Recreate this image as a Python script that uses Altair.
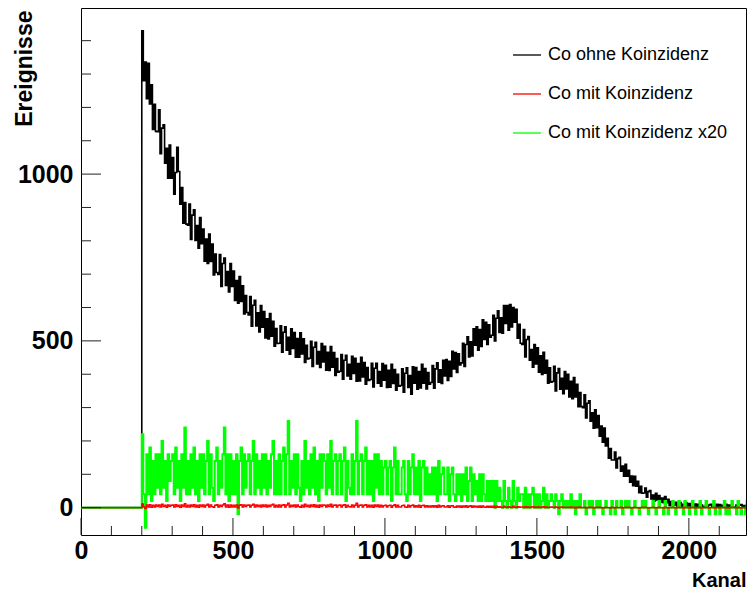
import altair as alt
import pandas as pd

# ---------------- data ----------------
START = 200      # first filled channel
BIN = 5          # channels per plotted bin
X_END = 2200

# "Co ohne Koinzidenz" counts, bins of 5 channels from 200 to 2195
ohne = [
    1430, 1280, 1336, 1226, 1332, 1210, 1268, 1134, 1209, 1128,
    1127, 1193, 1061, 1138, 1148, 1033, 1077, 988, 1087, 988,
    1050, 940, 1005, 1080, 1008, 910, 960, 853, 915, 850,
    847, 910, 804, 877, 893, 801, 846, 778, 870, 791,
    835, 739, 805, 732, 820, 738, 790, 698, 760, 705,
    699, 759, 663, 732, 748, 666, 708, 647, 732, 663,
    709, 621, 681, 613, 693, 618, 665, 581, 636, 585,
    578, 633, 544, 607, 622, 545, 584, 527, 606, 541,
    588, 509, 566, 506, 582, 514, 559, 484, 537, 492,
    493, 545, 466, 526, 542, 472, 511, 460, 536, 477,
    525, 451, 507, 451, 524, 461, 506, 435, 487, 446,
    448, 499, 423, 481, 496, 431, 468, 420, 492, 437,
    484, 412, 466, 411, 483, 421, 465, 396, 447, 406,
    409, 459, 385, 442, 457, 395, 430, 385, 454, 402,
    448, 379, 432, 380, 451, 392, 435, 370, 420, 381,
    384, 433, 362, 418, 433, 373, 408, 364, 432, 382,
    427, 360, 412, 361, 430, 372, 414, 352, 400, 364,
    366, 416, 346, 403, 419, 360, 396, 340, 422, 373,
    420, 355, 408, 359, 430, 373, 417, 356, 405, 370,
    375, 426, 358, 416, 434, 376, 413, 372, 442, 395,
    444, 381, 439, 393, 469, 416, 465, 405, 461, 428,
    434, 493, 423, 489, 512, 452, 497, 455, 536, 487,
    542, 472, 534, 483, 563, 504, 556, 489, 548, 511,
    517, 577, 500, 568, 590, 525, 569, 523, 606, 552,
    606, 532, 609, 542, 600, 556, 595, 508, 550, 493,
    489, 534, 452, 504, 513, 442, 474, 421, 489, 431,
    479, 406, 455, 399, 466, 403, 442, 373, 419, 376,
    378, 424, 350, 404, 417, 355, 388, 342, 408, 356,
    400, 332, 379, 327, 390, 332, 370, 303, 345, 303,
    300, 338, 269, 313, 320, 259, 284, 238, 293, 240,
    276, 214, 245, 196, 239, 185, 208, 148, 177, 143,
    143, 167, 119, 147, 151, 109, 125, 94, 130, 94,
    112, 76, 95, 66, 94, 64, 79, 45, 64, 43,
    44, 59, 31, 48, 51, 26, 38, 20, 43, 23,
    36, 16, 29, 15, 33, 15, 25, 6, 18, 7,
    8, 16, 3, 12, 15, 3, 10, 1, 14, 5,
    12, 3, 9, 2, 11, 4, 10, 1, 8, 3,
    3, 9, 1, 8, 10, 2, 7, 2, 10, 4,
    9, 1, 7, 2, 10, 3, 8, 1, 6, 2,
    2, 8, 0, 7, 9, 1, 6, 1, 9, 3,
]

# "Co mit Koinzidenz x20" values (coincidence counts times 20), same bins
mit_x20 = [
    220, 40, -60, 160, 40, 180, 20, 140, 40, 160,
    60, 160, 40, 200, 60, 140, 20, 160, 80, 140,
    160, 40, 180, 60, 140, 20, 160, 60, 240, 40,
    140, 40, 160, 60, 180, 40, 140, 20, 160, 60,
    160, 40, 140, 200, 40, 160, 60, 20, 140, 180,
    40, 140, 60, 160, 240, 40, 160, 20, 160, 40,
    140, 40, 160, -20, 140, 180, 40, 160, 60, 140,
    160, 40, 140, 200, 40, 160, 60, 140, 40, 160,
    60, 160, 40, 140, 60, 160, 200, 40, 140, 40,
    160, 40, 140, 180, 40, 160, 260, 40, 140, 60,
    160, 40, 160, 60, 20, 140, 40, 200, 60, 140,
    40, 160, 60, 180, 40, 140, 20, 160, 60, 160,
    140, 40, 160, 60, 200, 40, 140, 160, 40, 140,
    160, 40, 140, 180, 20, 140, 60, 40, 160, 40,
    140, 260, 40, 140, 160, 40, 140, 180, 40, 140,
    40, 140, 20, 160, 60, 160, 40, 140, 40, 120,
    140, 40, 120, 140, 20, 120, 180, 40, 140, 40,
    40, 120, 140, 40, 20, 140, 40, 120, 160, 40,
    120, 40, 140, 20, 120, 140, 40, 120, 40, 100,
    40, 120, 40, 120, 20, 140, 40, 100, 120, 40,
    40, 120, 20, 100, 120, 40, 20, 100, 40, 100,
    20, 100, 40, 120, 20, 80, 120, 20, 100, 40,
    80, 20, 100, 20, 100, 40, 20, 80, 20, 80,
    20, 80, 0, 80, 20, 60, 20, 0, 80, 20,
    0, 60, 20, 0, 80, 20, 0, 60, 20, 40,
    40, 0, 60, 0, 40, 0, 40, 60, 0, 40,
    0, 40, 0, 20, 60, 0, 40, 0, 20, 40,
    20, 0, 40, 20, -20, 20, 40, 0, 20, 0,
    20, 0, 40, 0, 20, -20, 20, 0, 40, 0,
    0, 20, -20, 0, 20, 0, 20, -20, 0, 20,
    0, 20, 0, -20, 0, 20, 0, 0, -20, 20,
    0, -20, 20, 0, 0, 20, -20, 0, 20, 0,
    20, 0, -20, 0, 20, 0, 0, -20, 0, 20,
    0, 20, 0, -20, 0, 0, 20, 0, -20, 0,
    20, 0, 0, -20, 20, 0, -20, 0, 0, 20,
    0, -20, 0, 20, 0, 0, -20, 20, 0, 0,
    -20, 0, 20, 0, -20, 0, 0, 20, -20, 0,
    0, 20, 0, -20, 0, 0, 20, -20, 0, 0,
    -20, 0, 0, 20, -20, 0, -20, 0, 20, 0,
    0, -20, 20, 0, -20, 0, 0, -20, 20, 0,
]
SCALE_FACTOR = 20   # legend: "x20"
mit = [v / SCALE_FACTOR for v in mit_x20]

series_names = ["Co ohne Koinzidenz", "Co mit Koinzidenz", "Co mit Koinzidenz x20"]
series_colors = ["#000000", "#ff0000", "#00ff00"]

x_domain = [0, 2188]
y_domain = [-82, 1498]
x_labels = [0, 500, 1000, 1500, 2000]
x_minor = [100, 200, 300, 400, 600, 700, 800, 900, 1100, 1200, 1300, 1400,
           1600, 1700, 1800, 1900, 2100]
y_labels = [0, 500, 1000]
y_minor = [100, 200, 300, 400, 600, 700, 800, 900, 1100, 1200, 1300, 1400]

# ---------------- layout ----------------
W, H = 665, 527
BOLD_FONT = "Liberation Sans"


def hist_df(name, counts):
    ch = [0] + [START + i * BIN for i in range(len(counts))] + [X_END]
    vals = [0] + list(counts) + [counts[-1]]
    return pd.DataFrame({"ch": ch, "v": vals, "series": name})


x_axis = alt.Axis(values=x_labels, format="d", title="Kanal", grid=False, ticks=False,
                  tickSize=0, domain=False, labelFlush=False, labelOverlap=False,
                  labelBaseline="alphabetic", labelPadding=23,
                  titleX=W, titleY=51, titleAlign="right", titleAnchor="end",
                  titleBaseline="alphabetic", titleFontSize=20)
y_axis = alt.Axis(values=y_labels, format="d", title="Ereignisse", grid=False, ticks=False,
                  tickSize=0, domain=False, labelFlush=False, labelOverlap=False,
                  labelPadding=8,
                  titleAngle=270, titleX=-50, titleY=2, titleAlign="right",
                  titleAnchor="end", titleBaseline="alphabetic", titleFontSize=23)

xs = alt.Scale(domain=x_domain, nice=False, zero=False)
ys = alt.Scale(domain=y_domain, nice=False, zero=False)


def X():
    return alt.X("ch:Q", scale=xs, axis=x_axis)


def Y():
    return alt.Y("v:Q", scale=ys, axis=y_axis)


color = alt.Color(
    "series:N",
    scale=alt.Scale(domain=series_names, range=series_colors),
    legend=alt.Legend(title=None, orient="none", legendX=431, legendY=32,
                      symbolType="stroke", symbolSize=784, symbolStrokeWidth=1.3,
                      labelFont="Liberation Sans", labelFontSize=18, labelColor="black",
                      labelLimit=400, labelOffset=6, rowPadding=15, padding=0),
)


def hist_layer(df, width):
    return alt.Chart(df).mark_line(interpolate="step-after", strokeWidth=width,
                                   clip=True).encode(x=X(), y=Y(), color=color)


layers = [
    hist_layer(hist_df(series_names[0], ohne), 1.6),
    hist_layer(hist_df(series_names[2], mit_x20), 2.0),
    hist_layer(hist_df(series_names[1], mit), 1.4),
]

tick_color = "#222222"
ymaj = alt.Chart(pd.DataFrame({"v": y_labels})).mark_rule(color=tick_color, strokeWidth=1).encode(
    y=Y(), x=alt.value(0), x2=alt.value(20))
ymin = alt.Chart(pd.DataFrame({"v": y_minor})).mark_rule(color=tick_color, strokeWidth=1).encode(
    y=Y(), x=alt.value(0), x2=alt.value(10))
xmaj = alt.Chart(pd.DataFrame({"ch": x_labels})).mark_rule(color=tick_color, strokeWidth=1).encode(
    x=X(), y=alt.value(H), y2=alt.value(H - 17))
xmin = alt.Chart(pd.DataFrame({"ch": x_minor})).mark_rule(color=tick_color, strokeWidth=1).encode(
    x=X(), y=alt.value(H), y2=alt.value(H - 9))

chart = alt.layer(*layers, ymaj, ymin, xmaj, xmin).properties(
    width=W, height=H,
    padding={"left": 81, "top": 8, "right": 3, "bottom": 57},
    autosize=alt.AutoSizeParams(type="none"),
    background="white",
).configure_view(
    stroke="black", strokeWidth=1
).configure_axis(
    labelFont=BOLD_FONT, labelFontWeight="bold", labelFontSize=25, labelColor="black",
    titleFont=BOLD_FONT, titleFontWeight="bold", titleColor="black",
)

chart.save("out.html", embed_options={"renderer": "svg", "actions": False})
